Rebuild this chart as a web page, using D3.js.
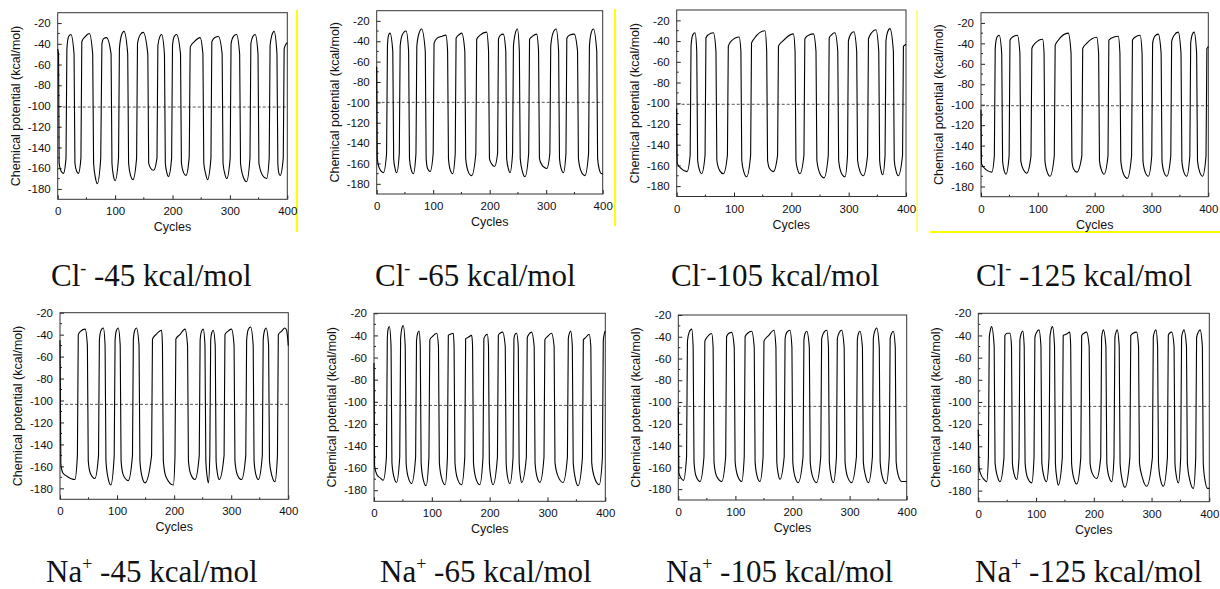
<!DOCTYPE html>
<html>
<head>
<meta charset="utf-8">
<script src="https://cdn.jsdelivr.net/npm/d3@7"></script>
<style>
  body { margin: 0; background: #fff; }
  svg { display: block; }
</style>
</head>
<body>
<svg id="chart" width="1220" height="589"></svg>
<script>
// panel labels
const ions = ["Cl", "Cl", "Cl", "Cl", "Na", "Na", "Na", "Na"];
const charges = ["-", "-", "-", "-", "+", "+", "+", "+"];
const titleRest = [" -45 kcal/mol", " -65 kcal/mol", "-105 kcal/mol", " -125 kcal/mol",
                   " -45 kcal/mol", " -65 kcal/mol", " -105 kcal/mol", " -125 kcal/mol"];
// average chemical potential (dashed line)
const avgLevels = [-101, -100, -101, -101, -103.5, -103.3, -104, -104];
const yTopValues = [-10, -10, -10, -10, -20, -20, -20, -20];
const yTicks = [-20, -40, -60, -80, -100, -120, -140, -160, -180];
const yMinor = [-30, -50, -70, -90, -110, -130, -150, -170];
const xTicks = [0, 100, 200, 300, 400];
const xMinor = [50, 150, 250, 350];

// chemical potential vs cycles [cycle, kcal/mol]
const cl45 = [[0,-45],[1.5,-50],[2.5,-155],[6,-163],[10,-165],[14.5,-150],
  [16,-45],[19,-33],[23,-31],[28.5,-50],[30,-155],[33,-163],[36,-165],[40.5,-150],
  [42,-38],[48,-33],[55,-30],[61,-50],[62.5,-155],[66,-170],[69,-175],[75,-150],
  [77,-40],[80,-35],[85,-34],[93,-50],[94.5,-155],[97,-167],[100,-172],[106,-150],
  [107.5,-45],[111,-32],[115.5,-28],[122,-50],[123.5,-155],[127,-167],[131,-171],[137.5,-150],
  [139,-40],[144,-31],[149,-29],[157,-50],[158.5,-155],[162,-160],[167,-162],[173,-150],
  [174.5,-42],[178,-33],[181,-31],[186,-50],[187.5,-155],[190,-164],[193,-168],[198.5,-150],
  [200,-42],[203,-33],[207,-31],[214,-50],[215.5,-155],[219,-164],[223.5,-167],[229,-150],
  [231,-43],[238,-38],[248,-34],[253,-50],[254.5,-155],[258,-166],[261,-171],[267,-150],
  [268.5,-38],[274,-34],[280,-33],[286.5,-50],[288,-155],[291,-165],[294.5,-170],[300.5,-150],
  [302,-40],[306,-33],[311.5,-31],[317,-50],[318.5,-155],[323,-168],[329,-173],[335,-150],
  [336.5,-40],[340,-33],[344,-31],[349,-50],[350.5,-155],[357,-167],[364,-170],[368.5,-150],
  [370,-42],[373,-32],[377,-28],[382,-50],[383.5,-155],[385,-164],[387.5,-167],[393,-150],
  [394.5,-45],[397,-41],[400,-39]];

const cl65 = [[0,-65],[1,-155],[5,-165],[12,-169],[17.5,-150],
  [19,-45],[21,-34],[23.5,-32],[28.5,-50],[30,-155],[32.5,-165],[35.5,-169],[40,-150],
  [41.5,-45],[45,-34],[52,-30],[56.5,-50],[58,-155],[61,-166],[65,-170],[69.5,-150],
  [71,-45],[75,-32],[79.5,-28],[86,-50],[87.5,-155],[90,-165],[94.5,-168],[100,-150],
  [101.5,-42],[107,-37],[116,-35],[122.5,-34],[125.5,-50],[127,-155],[130,-166],[134.5,-170],[139,-150],
  [140.5,-37],[145,-34],[150.5,-32],[156,-50],[157.5,-155],[162,-168],[168,-172],[175.5,-150],
  [177,-38],[183,-34],[194.5,-31],[198,-50],[199.5,-155],[203,-160],[208.5,-163],[214,-150],
  [215.5,-38],[219,-34],[224,-33],[228.5,-50],[230,-155],[233,-165],[236,-169],[240.5,-150],
  [242,-45],[245,-33],[249,-28],[252.5,-50],[254,-155],[258,-168],[262.5,-173],[269,-150],
  [270.5,-38],[276,-35],[283,-33],[286.5,-50],[288,-155],[292,-161],[297,-164],[301,-165],[306.5,-150],
  [308,-45],[312,-32],[317.5,-28],[322,-50],[323.5,-155],[326.5,-165],[330.5,-169],[335,-150],
  [336.5,-37],[341,-34],[349.5,-33],[355.5,-50],[357,-155],[362,-168],[368.5,-172],[375,-150],
  [376.5,-45],[379.5,-32],[383.5,-28],[389.5,-50],[391,-155],[394,-166],[398,-170],[400,-170]];

const cl105 = [[0,-105],[1,-158],[8,-163],[18,-166],[23.5,-150],
  [25,-45],[28,-34],[32,-32],[35,-50],[36.5,-155],[40,-165],[43.5,-168],[49.5,-150],
  [51,-37],[55,-34],[64,-32],[68.5,-50],[70,-155],[75,-165],[81.5,-168],[88.5,-150],
  [90,-45],[95,-40],[109,-36],[112,-50],[113.5,-155],[117,-166],[122,-171],[129,-150],
  [130.5,-42],[136,-37],[154,-30],[157,-50],[158.5,-155],[162,-163],[168.5,-166],[176,-150],
  [177.5,-45],[185,-40],[203.5,-33],[206.5,-50],[208,-155],[211,-164],[215,-168],[222,-150],
  [223.5,-38],[228,-35],[238.5,-33],[243,-50],[244.5,-155],[250,-168],[257,-172],[264.5,-150],
  [266,-37],[270,-34],[276,-32],[281,-50],[282.5,-155],[287,-167],[293.5,-171],[298,-150],
  [299.5,-40],[304,-33],[309,-31],[314,-50],[315.5,-155],[320,-166],[325.5,-170],[333,-150],
  [334.5,-38],[340,-32],[347.5,-29],[352.5,-50],[354,-155],[356.5,-165],[359.5,-169],[363.5,-150],
  [365,-40],[368,-31],[372,-28],[378,-50],[379.5,-155],[383,-166],[386.5,-170],[394,-150],
  [395.5,-45],[398,-44],[400,-43]];

const cl125 = [[0,-105],[1,-158],[10,-164],[19,-166],[23.5,-150],
  [25,-45],[28,-34],[32,-32],[36.5,-50],[38,-155],[41,-165],[44,-168],[49.5,-150],
  [51,-37],[55,-34],[64,-32],[68.5,-50],[70,-155],[75,-164],[80.5,-167],[88,-150],
  [89.5,-45],[95,-40],[108.5,-36],[111,-50],[112.5,-155],[116,-165],[121.5,-170],[129,-150],
  [130.5,-42],[136,-37],[153.5,-30],[158.5,-50],[160,-155],[163,-163],[168.5,-166],[177.5,-150],
  [179,-45],[186,-40],[203.5,-34],[207,-50],[208.5,-155],[212,-164],[216.5,-168],[223.5,-150],
  [225,-37],[229,-35],[241.5,-33],[244.5,-50],[246,-155],[251,-168],[257.5,-172],[265,-150],
  [266.5,-37],[271,-34],[280,-32],[283.5,-50],[285,-155],[289,-166],[294.5,-170],[300.5,-150],
  [302,-40],[306,-33],[312,-31],[317,-50],[318.5,-155],[322,-166],[327,-170],[334,-150],
  [335.5,-38],[340,-32],[347,-29],[352,-50],[353.5,-155],[357,-166],[362,-170],[367.5,-150],
  [369,-40],[372,-31],[375,-29],[379.5,-50],[381,-155],[385,-166],[390,-170],[396,-150],
  [397.5,-45],[399,-44],[400,-43]];

const na45 = [[0,-45],[1.5,-158],[5,-166],[12,-169],[26,-172],[30.5,-150],
  [32,-40],[36,-37],[44,-35],[48,-50],[49.5,-155],[53,-166],[61,-171],[67.5,-150],
  [69,-45],[72,-36],[76,-34],[79,-50],[80.5,-155],[84,-170],[89,-177],[95,-150],
  [96.5,-45],[99,-36],[102,-34],[105.5,-50],[107,-155],[111,-168],[119.5,-173],[127,-150],
  [128.5,-45],[131,-36],[134,-34],[138.5,-50],[140,-155],[144,-170],[149,-175],[160.5,-150],
  [162,-44],[168,-40],[178,-36],[179.5,-50],[181,-155],[186,-170],[198.5,-177],[201.5,-150],
  [203,-44],[210,-40],[219,-35],[223.5,-50],[225,-155],[229,-167],[236.5,-172],[244,-150],
  [245.5,-45],[248,-37],[251,-35],[254,-50],[255.5,-155],[258,-170],[260,-175],[262.5,-150],
  [264,-45],[266,-38],[268.5,-36],[272,-50],[273.5,-155],[276,-167],[279,-172],[287.5,-150],
  [289,-40],[294,-37],[300.5,-35],[305,-50],[306.5,-155],[311,-168],[318,-172],[325.5,-150],
  [327,-45],[330,-35],[334,-33],[338.5,-50],[340,-155],[343,-167],[347.5,-172],[354.5,-150],
  [356,-45],[358.5,-36],[361,-34],[365.5,-50],[367,-155],[371,-168],[376.5,-174],[381,-150],
  [382.5,-40],[388,-37],[394,-34],[397,-36],[400,-50]];

const na65 = [[0,-65],[1,-158],[5,-166],[11,-169],[16,-171],[21.5,-150],
  [23,-43],[24.5,-34],[26.5,-32],[29.5,-50],[31,-155],[34.5,-168],[39,-173],[44.5,-150],
  [46,-43],[48,-34],[50.5,-31],[54,-50],[55.5,-155],[59,-168],[65,-174],[72,-150],
  [73.5,-45],[75.5,-38],[78,-36],[80,-50],[81.5,-155],[85,-170],[90,-176],[95,-150],
  [96.5,-44],[101,-41],[108.5,-38],[111.5,-50],[113,-155],[117,-169],[123,-175],[127,-150],
  [128.5,-40],[132,-39],[137,-38],[138.5,-50],[140,-155],[144,-169],[151.5,-175],[157,-150],
  [158.5,-43],[162,-42],[169,-40],[170.5,-50],[172,-155],[176,-169],[183,-175],[188.5,-150],
  [190,-43],[193,-40],[196,-39],[198,-50],[199.5,-155],[202,-168],[206,-175],[213.5,-150],
  [215,-40],[218,-38],[222.5,-37],[227,-50],[228.5,-155],[231,-168],[235,-174],[240.5,-150],
  [242,-43],[244,-39],[246.5,-38],[249.5,-50],[251,-155],[253,-167],[255.5,-173],[263.5,-150],
  [265,-42],[268,-39],[272.5,-37],[277,-50],[278.5,-155],[282,-168],[287,-173],[294,-150],
  [295.5,-44],[300,-41],[307,-38],[311.5,-50],[313,-155],[318,-167],[327,-173],[334.5,-150],
  [336,-43],[338,-38],[340,-36],[343,-50],[344.5,-155],[348,-169],[353,-176],[360.5,-150],
  [362,-44],[366,-42],[372,-39],[375,-50],[376.5,-155],[381,-168],[389.5,-175],[395,-150],
  [396.5,-45],[398.5,-38],[400,-36]];

const na105 = [[0,-105],[1,-165],[5,-170],[9,-172],[14.5,-150],
  [16,-44],[19,-36],[23.5,-33],[26,-50],[27.5,-155],[31,-168],[38,-173],[45,-150],
  [46.5,-44],[51,-40],[58.5,-37],[61,-50],[62.5,-155],[67,-168],[76,-173],[83,-150],
  [84.5,-40],[88,-37],[93.5,-36],[98,-50],[99.5,-155],[104,-168],[111,-173],[115.5,-150],
  [117,-40],[121,-37],[128.5,-35],[133,-50],[134.5,-155],[138,-168],[143,-173],[148.5,-150],
  [150,-44],[158,-39],[167.5,-34],[171,-50],[172.5,-155],[175,-166],[178,-171],[185.5,-150],
  [187,-42],[190,-36],[195.5,-34],[199,-50],[200.5,-155],[204,-168],[210,-174],[218.5,-150],
  [220,-43],[222,-37],[225,-35],[229.5,-50],[231,-155],[235,-168],[242,-174],[249.5,-150],
  [251,-42],[255,-36],[260,-34],[263,-50],[264.5,-155],[267.5,-168],[271.5,-174],[277,-150],
  [278.5,-42],[282,-36],[286,-34],[290.5,-50],[292,-155],[296,-168],[303.5,-174],[312,-150],
  [313.5,-43],[315.5,-37],[318,-35],[322.5,-50],[324,-155],[328,-168],[333,-174],[340,-150],
  [341.5,-42],[344,-35],[347.5,-32],[352,-50],[353.5,-155],[357,-168],[364,-175],[369.5,-150],
  [371,-42],[373.5,-37],[376.5,-35],[380,-50],[381.5,-155],[385,-167],[391,-173],[400,-173]];

const na125 = [[0,-125],[1.5,-160],[5,-166],[10,-170],[14.5,-172],[17.5,-150],
  [19,-42],[21,-35],[23,-32],[27.5,-50],[29,-155],[33,-167],[37.5,-172],[44.5,-150],
  [46,-40],[50,-38],[55,-38],[57.5,-50],[59,-155],[62,-165],[66.5,-170],[70.5,-150],
  [72,-44],[74.5,-38],[77,-36],[79.5,-50],[81,-155],[85,-168],[92.5,-173],[96.5,-150],
  [98,-42],[101,-37],[105,-35],[108.5,-50],[110,-155],[113.5,-167],[118,-172],[122.5,-150],
  [124,-42],[126,-35],[128.5,-32],[132,-50],[133.5,-155],[136,-169],[138.5,-175],[145.5,-150],
  [147,-40],[152,-39],[158.5,-37],[160,-50],[161.5,-155],[165,-168],[170.5,-174],[177.5,-150],
  [179,-40],[183,-38],[187.5,-37],[192,-50],[193.5,-155],[197,-164],[205,-169],[212,-150],
  [213.5,-42],[215,-37],[216.5,-35],[221,-50],[222.5,-155],[226,-167],[231,-172],[235,-150],
  [236.5,-42],[238.5,-37],[240.5,-35],[244,-50],[245.5,-155],[249,-170],[254,-177],[262.5,-150],
  [264,-40],[268,-38],[274,-37],[277.5,-50],[279,-155],[284,-168],[291.5,-176],[301.5,-150],
  [303,-42],[305,-37],[307.5,-35],[310.5,-50],[312,-155],[315.5,-170],[320.5,-176],[327.5,-150],
  [329,-40],[331,-38],[335,-37],[339,-50],[340.5,-155],[343,-167],[346.5,-173],[350.5,-150],
  [352,-42],[354,-37],[356,-35],[360.5,-50],[362,-155],[366,-170],[372.5,-178],[376.5,-150],
  [378,-42],[381,-37],[384,-35],[388,-50],[389.5,-155],[393,-172],[397,-178],[400,-178]];

const series = [cl45, cl65, cl105, cl125, na45, na65, na105, na125];

// where each little plot sits on the page (pixels)
const frames = [
  { x0: 57.7, x1: 287.3, y0: 12.7, y1: 199.3 },
  { x0: 376.7, x1: 602.7, y0: 10.7, y1: 194 },
  { x0: 676.7, x1: 906, y0: 10, y1: 196.5 },
  { x0: 981, x1: 1208.3, y0: 12.7, y1: 196.7 },
  { x0: 60, x1: 288.3, y0: 312.7, y1: 499.3 },
  { x0: 374, x1: 605.3, y0: 313.3, y1: 501.3 },
  { x0: 678.3, x1: 906.7, y0: 315, y1: 500 },
  { x0: 978.3, x1: 1209.3, y0: 313.3, y1: 501.7 }
];
const titlePos = [[51, 286], [375, 286], [671, 286], [976, 286],
                  [46, 582], [380, 582], [666, 582], [975, 582]];

const svg = d3.select("#chart");
const sans = "'Liberation Sans', Arial, sans-serif";
const serif = "'Liberation Serif', 'Times New Roman', serif";

// stray yellow guide lines from the original figure
const guides = [[297, 10, 297, 232, 2], [615, 9, 615, 226, 2], [917, 10, 917, 232, 1], [930, 232, 1220, 232, 2]];
svg.selectAll("line.guide").data(guides).enter().append("line")
  .attr("class", "guide")
  .attr("x1", d => d[0]).attr("y1", d => d[1])
  .attr("x2", d => d[2]).attr("y2", d => d[3])
  .attr("stroke", "#ffff00").attr("stroke-width", d => d[4]);

series.forEach((data, i) => {
  const f = frames[i];
  const x = d3.scaleLinear().domain([0, 400]).range([f.x0, f.x1]);
  const y = d3.scaleLinear().domain([-190, yTopValues[i]]).range([f.y1, f.y0]);
  const g = svg.append("g");

  // bottom axis, ticks pointing in
  const xAxis = g.append("g")
    .attr("transform", `translate(0,${f.y1})`)
    .call(d3.axisBottom(x).tickValues(xTicks).tickSizeInner(-4).tickSizeOuter(0).tickPadding(8).tickFormat(d => d));
  g.append("g").selectAll("line").data(xMinor).enter().append("line")
    .attr("x1", d => x(d)).attr("x2", d => x(d))
    .attr("y1", f.y1).attr("y2", f.y1 - 2)
    .attr("stroke", "#222");

  const yAxis = g.append("g")
    .attr("transform", `translate(${f.x0},0)`)
    .call(d3.axisLeft(y).tickValues(yTicks).tickSizeInner(-4).tickSizeOuter(0).tickPadding(7).tickFormat(d => String(d)));
  g.append("g").selectAll("line").data(yMinor).enter().append("line")
    .attr("x1", f.x0).attr("x2", f.x0 + 2)
    .attr("y1", d => y(d)).attr("y2", d => y(d))
    .attr("stroke", "#222");

  [xAxis, yAxis].forEach(a => {
    a.select(".domain").remove();
    a.selectAll("line").attr("stroke", "#222");
    a.selectAll("text").attr("font-family", sans).attr("font-size", 11.5).attr("fill", "#111");
  });

  // frame
  g.append("rect")
    .attr("x", f.x0).attr("y", f.y0)
    .attr("width", f.x1 - f.x0).attr("height", f.y1 - f.y0)
    .attr("fill", "none").attr("stroke", "#333").attr("stroke-width", 1);

  // dashed average
  g.append("line")
    .attr("x1", f.x0).attr("x2", f.x1)
    .attr("y1", y(avgLevels[i])).attr("y2", y(avgLevels[i]))
    .attr("stroke", "#444").attr("stroke-width", 0.9)
    .attr("stroke-dasharray", "3,2");

  const line = d3.line()
    .x(d => x(d[0])).y(d => y(d[1]))
    .curve(d3.curveMonotoneX);
  g.append("path")
    .datum(data)
    .attr("d", line)
    .attr("fill", "none").attr("stroke", "#000").attr("stroke-width", 1.1);

  // axis titles
  g.append("text")
    .attr("x", (f.x0 + f.x1) / 2).attr("y", f.y1 + 32)
    .attr("text-anchor", "middle")
    .attr("font-family", sans).attr("font-size", 12.5).attr("fill", "#111")
    .text("Cycles");
  g.append("text")
    .attr("transform", `translate(${f.x0 - 38},${(f.y0 + f.y1) / 2}) rotate(-90)`)
    .attr("text-anchor", "middle")
    .attr("font-family", sans).attr("font-size", 12.5).attr("fill", "#111")
    .text("Chemical potential (kcal/mol)");

  // panel title, e.g. Cl⁻ -45 kcal/mol
  const t = svg.append("text")
    .attr("x", titlePos[i][0]).attr("y", titlePos[i][1])
    .attr("font-family", serif).attr("font-size", 31).attr("fill", "#111");
  t.append("tspan").text(ions[i]);
  t.append("tspan").attr("dy", -12).attr("font-size", 18).text(charges[i]);
  t.append("tspan").attr("dy", 12).text(titleRest[i]);
});
</script>
</body>
</html>
